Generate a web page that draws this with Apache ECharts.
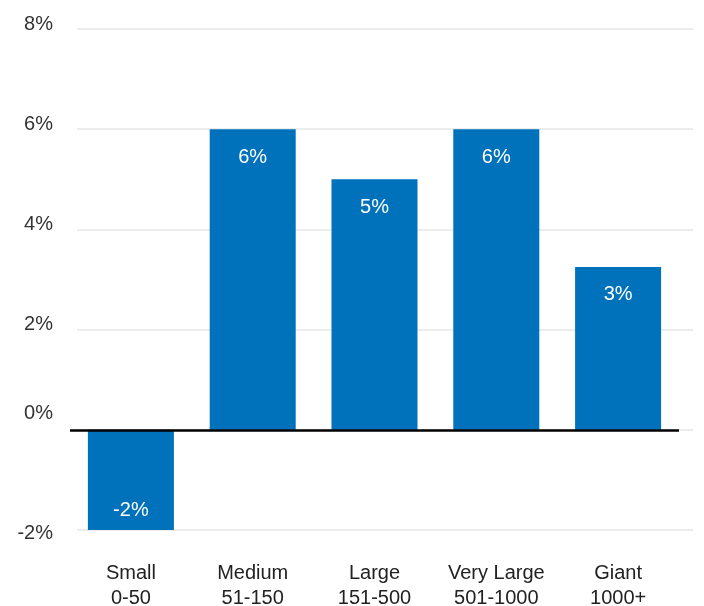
<!DOCTYPE html>
<html>
<head>
<meta charset="utf-8">
<script src="https://cdn.jsdelivr.net/npm/echarts@6/dist/echarts.min.js"></script>
<style>
  html, body { margin: 0; padding: 0; background: #fff; }
  #chart { width: 704px; height: 606px; }
</style>
</head>
<body>
<div id="chart"></div>
<script>
// data
var categories = ['Small\n0-50', 'Medium\n51-150', 'Large\n151-500', 'Very Large\n501-1000', 'Giant\n1000+'];
var values = [-2.0, 6.0, 5.0, 6.0, 3.25];
var yMin = -2, yMax = 8, yStep = 2;

var font = '"Liberation Sans", Helvetica, Arial, sans-serif';
var barColor = '#0071bb';

var chart = echarts.init(document.getElementById('chart'));
var option = {
    animation: false,
    grid: [
        // bars
        { left: 70, right: 25, top: 29, bottom: 76, outerBoundsMode: 'none' },
        // gridlines + y labels
        { left: 77, right: 11, top: 29, bottom: 76, outerBoundsMode: 'none' }
    ],
    xAxis: [{
        type: 'category',
        gridIndex: 0,
        data: categories,
        axisLine: { show: false, onZero: false },
        axisTick: { show: false },
        axisLabel: {
            interval: 0,
            hideOverlap: false,
            margin: 31,
            color: '#222',
            fontFamily: font,
            fontSize: 20,
            lineHeight: 25
        }
    }, {
        type: 'value',
        gridIndex: 1,
        show: false
    }],
    yAxis: [{
        type: 'value',
        gridIndex: 0,
        min: yMin, max: yMax, interval: yStep,
        show: false
    }, {
        type: 'value',
        gridIndex: 1,
        min: yMin, max: yMax, interval: yStep,
        axisLine: { show: false },
        axisTick: { show: false },
        splitLine: { lineStyle: { color: '#e6e6e6', width: 1.5 } },
        axisLabel: {
            margin: 24,
            color: '#333',
            fontFamily: font,
            fontSize: 20,
            formatter: function (v) {
                var key = v > 0 ? 'up' : (v === 0 ? 'zero' : 'down');
                return '{' + key + '|' + v + '%}';
            },
            rich: {
                up: { fontFamily: font, fontSize: 20, color: '#333', padding: [0, 0, 10, 0] },
                zero: { fontFamily: font, fontSize: 20, color: '#333', padding: [0, 0, 32, 0] },
                down: { fontFamily: font, fontSize: 20, color: '#333', padding: [6, 0, 0, 0] }
            }
        }
    }],
    series: [{
        type: 'bar',
        xAxisIndex: 0,
        yAxisIndex: 0,
        barWidth: 86,
        z: 3,
        itemStyle: { color: barColor },
        label: {
            show: true,
            position: 'insideTop',
            distance: 18,
            color: '#fff',
            fontFamily: font,
            fontSize: 20,
            formatter: function (p) { return Math.round(p.value) + '%'; }
        },
        data: values.map(function (v) {
            var d = { value: v };
            if (v < 0) d.label = { position: 'insideBottom', distance: 10 };
            return d;
        }),
        markLine: {
            silent: true,
            symbol: 'none',
            label: { show: false },
            lineStyle: { color: '#000', width: 2.5, type: 'solid' },
            data: [{ yAxis: 0 }]
        }
    }]
};
chart.setOption(option);
window.addEventListener('resize', function () {
    chart.resize();
});
</script>
</body>
</html>
